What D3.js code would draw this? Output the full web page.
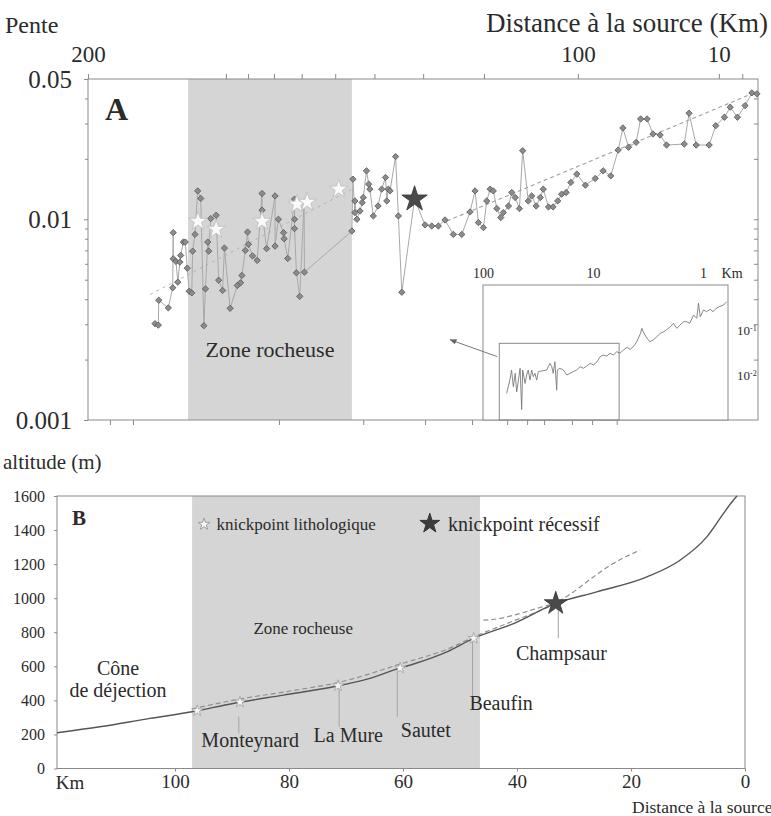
<!DOCTYPE html>
<html><head><meta charset="utf-8">
<script src="https://cdn.jsdelivr.net/npm/d3@7"></script>
<style>
body{margin:0;background:#fff}
svg{display:block}
svg text{font-family:"Liberation Serif","Tinos","Times New Roman",serif}
</style></head><body>
<script>
// ===== Panel A : pente vs distance (log-log) =====
const slopeDist = [598,583,581,540,522,520,520,509,502,494,491,481,474,467,460,451,448,440,431,421,411,406,399,396,390,374,367,356,351,336,318,310,307,299,294,292,283,273,263,263,254,238,238,232,223,222,216,205,205,205,202,197,190.5,190,132,131,129,129,127,124,122,121,118,116,115,112,108,105,102,101,99.8,98.5,94.4,92.4,90.0,81.6,75.3,71.5,68.0,64.6,60.6,56.8,53.3,51.3,50.0,48.1,46.9,45.7,44.6,43.4,42.1,41.3,39.7,38.7,37.7,36.5,35.6,34.1,33.2,32.1,31.1,30.4,29.2,28.2,27.2,26.4,25.5,24.6,23.5,22.0,20.4,19.2,18.1,17.1,16.5,15.8,14.9,14.4,13.7,13.1,12.4,11.8,10.3,9.93,9.40,8.51,8.09,7.57,7.24,6.85,6.46,6.13,5.90];
const slopeVal = [.00302,.00297,.00395,.00362,.00456,.00858,.00636,.00617,.00486,.00612,.00661,.0077,.0077,.00571,.00438,.0043,.00694,.00841,.01385,.0127,.00295,.0045,.0077,.00694,.01008,.01047,.00497,.00442,.00719,.0036,.00468,.00483,.00525,.007,.00864,.0075,.00657,.00624,.01344,.0111,.00714,.01308,.00735,.01,.00858,.008,.00638,.0126,.01,.00899,.00541,.00413,.01216,.00545,.00874,.01585,.0108,.01234,.01,.011,.01212,.01284,.01744,.01496,.01413,.01039,.01165,.01413,.01616,.01234,.01413,.01385,.02054,.01039,.00433,.0126,.00938,.00926,.00926,.00992,.00841,.00841,.01088,.01385,.00963,.00909,.01234,.01413,.01385,.01131,.0102,.0108,.01165,.0136,.01284,.01131,.02196,.01234,.01308,.01165,.01284,.01413,.01152,.01152,.01234,.01334,.0136,.01526,.01679,.01479,.01597,.01744,.01646,.02213,.02851,.02284,.02418,.03162,.03162,.02661,.0263,.02344,.02371,.03377,.02344,.02344,.02927,.03225,.03618,.03225,.03685,.04266,.04217];
const lithoStarDist = [430,374,263,201,186,146];
const lithoStarVal  = [.00977,.00891,.00977,.01189,.01216,.01413];
const recessStarDist = [81.6];
const recessStarVal  = [.0126];
const trendLowDist = [621,132],  trendLowVal = [.00422,.0141];
const trendHighDist = [63.7,6.13], trendHighVal = [.0098,.0422];
const zoneA = [464,132];
const yTickValsA = [0.001,0.01,0.05];
const yTickLabelsA = ["0.001","0.01","0.05"];
const yMinorA = [.002,.003,.004,.005,.006,.007,.008,.009,.02,.03,.04];
const topTickVals = [1000,347,293,240,194,150,111,76.4,47.9,23.3,7.9,6.6];
const topTickLabels = ["200","","","","","","","","","100","10",""];
const bottomTickVals = [845,708,231,121,75.3,52.5,40.1,34.4,30.2,24.4,20.9,17.3];
// inset (full profile)
const insetDist = [61,57,55,53,51,49.4,46,44.5,43.6,41.5,40.1,38.8,37.4,36.1,34.9,33.7,32.5,31.4,26.4,24.6,23.7,23,22.2,21.4,21.1,20,18.6,17.3,16.2,15.1,14.1,13.1,12.2,11.4,10.6,9.9,9.2,8.6,8.1,7.5,7.0,6.5,6.1,5.7,5.3,4.9,4.6,4.3,4.0,3.7,3.6,3.5,3.3,3.05,2.84,2.63,2.44,2.27,2.12,1.98,1.86,1.73,1.62,1.5,1.41,1.32,1.22,1.14,1.10,1.06,0.99,0.93,0.86,0.81,0.76,0.71,0.65,0.61];
const insetSlope = [.0039,.0077,.0129,.0055,.0109,.0042,.0141,.0017,.0129,.0065,.01,.0129,.0077,.0129,.0092,.0109,.0077,.0119,.0129,.0182,.0153,.0109,.0197,.0046,.0129,.0141,.0129,.01,.0109,.0119,.0129,.0153,.0141,.0158,.0182,.0167,.0197,.0255,.0278,.0264,.0303,.0278,.033,.0303,.0359,.0412,.0372,.0426,.0549,.0845,.109,.0917,.071,.0549,.0599,.071,.0845,.0917,.104,.118,.141,.109,.129,.153,.153,.141,.215,.182,.392,.197,.278,.255,.288,.255,.303,.33,.359,.426];
const insetXTicks = [100,10,1];
const insetYTicks = [0.1,0.01];
const insetZoomDist = [71.1,5.79], insetZoomSlope = [0.0506,0.001];
const arrowDist = [43.3,62.1], arrowVal = [.00207,.00251];

// ===== Panel B : altitude vs distance =====
const profileKm  = [120.7,113.2,104.4,97.0,89.8,81.0,72.2,66,61,58,52.3,47.7,40.6,33.2,26.0,17.2,11.4,6.7,3.8,2.05,1.4];
const profileAlt = [210,245,294,333,382,431,480,528,585,615,685,763,851,969,1037,1125,1223,1360,1497,1575,1600];
const dash1Km  = [97.0,88.6,79.8,71.1,60.5,51.8,47.7,41.2,33.2,30.1,26.6,23.1,18.4];
const dash1Alt = [350,408,455,507,613,707,771,859,971,1037,1125,1204,1282];
const dash2Km  = [45.9,43.0,39.5,36.5,33.2];
const dash2Alt = [871,881,910,940,971];
const lithoKmB  = [96.1,88.6,71.4,60.5,47.6];
const lithoAltB = [339,390,486,590,764];
const recessKmB = [33.2], recessAltB = [969];
const zoneB = [97,46.5];
const yTicksB = [0,200,400,600,800,1000,1200,1400,1600];
const xTicksB = [100,80,60,40,20,0];
const leaderKm = [88.8,71.2,61.0,47.8,32.75];
const leaderTop = [304,470,560,764,969];
const leaderBot = [206,245,304,421,765];
const siteLabels = ["Monteynard","La Mure","Sautet","Beaufin","Champsaur"];
const siteKm  = [86.8,69.6,56.0,42.8,32.2];
const siteAlt = [167,196,226,382,676];

// ===== drawing =====
const W=771,H=816, TXT="#2b2b2b", LN="#8a8a8a", SHADE="#d5d5d5";
const FF='"Liberation Serif","Tinos","Times New Roman",serif';
const svg=d3.select("body").append("svg").attr("width",W).attr("height",H).attr("font-family",FF);
const defs=svg.append("defs");
defs.append("marker").attr("id","arr").attr("viewBox","0 0 10 10").attr("refX",9).attr("refY",5)
  .attr("markerWidth",7).attr("markerHeight",7).attr("orient","auto")
  .append("path").attr("d","M0,1L10,5L0,9Z").attr("fill","#666");

function styleAxis(g,fs){
  g.attr("font-family",FF);
  g.select(".domain").remove();
  g.selectAll(".tick line").attr("stroke",LN);
  g.selectAll(".tick text").attr("fill",TXT).attr("font-size",fs);
}

// ---- Panel A
const xA=d3.scaleLog().domain([1000,5.85]).range([88,758]);
const yA=d3.scaleLog().domain([0.001,0.05]).range([420,79]);
const A=svg.append("g");
A.append("rect").attr("x",xA(zoneA[0])).attr("y",yA(0.05)).attr("width",xA(zoneA[1])-xA(zoneA[0]))
  .attr("height",yA(0.001)-yA(0.05)).attr("fill",SHADE);
A.append("rect").attr("x",xA.range()[0]).attr("y",yA.range()[1]).attr("width",xA.range()[1]-xA.range()[0])
  .attr("height",yA.range()[0]-yA.range()[1]).attr("fill","none").attr("stroke",LN);

A.append("g").attr("transform",`translate(0,${yA.range()[1]})`)
  .call(d3.axisTop(xA).tickValues(topTickVals).tickFormat((d,i)=>topTickLabels[i]).tickSize(5).tickPadding(12))
  .call(g=>styleAxis(g,"23px"));
A.append("g").attr("transform",`translate(0,${yA.range()[0]})`)
  .call(d3.axisBottom(xA).tickValues(bottomTickVals).tickFormat("").tickSize(5))
  .call(g=>styleAxis(g,"10px"));
A.append("g").attr("transform",`translate(${xA.range()[0]},0)`)
  .call(d3.axisLeft(yA).tickValues(yTickValsA).tickFormat((d,i)=>yTickLabelsA[i]).tickSize(4).tickPadding(12))
  .call(g=>styleAxis(g,"25px"));
A.append("g").attr("transform",`translate(${xA.range()[0]},0)`)
  .call(d3.axisLeft(yA).tickValues(yMinorA).tickFormat("").tickSize(3))
  .call(g=>styleAxis(g,"10px"));
A.append("g").attr("transform",`translate(${xA.range()[1]},0)`)
  .call(d3.axisRight(yA).tickValues(yMinorA.concat([0.01])).tickFormat("").tickSize(-4))
  .call(g=>styleAxis(g,"10px"));

// inset
const xI=d3.scaleLog().domain([100,0.593]).range([483,728]);
const yI=d3.scaleLog().domain([0.001,1]).range([420,285]);
A.append("rect").attr("x",xI.range()[0]).attr("y",yI.range()[1]).attr("width",xI.range()[1]-xI.range()[0])
  .attr("height",yI.range()[0]-yI.range()[1]).attr("fill","#fff").attr("stroke",LN);
A.append("rect").attr("x",xI(insetZoomDist[0])).attr("y",yI(insetZoomSlope[0]))
  .attr("width",xI(insetZoomDist[1])-xI(insetZoomDist[0])).attr("height",yI(insetZoomSlope[1])-yI(insetZoomSlope[0]))
  .attr("fill","none").attr("stroke",LN);
A.append("path").datum(d3.range(insetDist.length))
  .attr("d",d3.line().x(i=>xI(insetDist[i])).y(i=>yI(insetSlope[i])))
  .attr("fill","none").attr("stroke","#7a7a7a").attr("stroke-width",0.9);
A.append("g").attr("transform",`translate(0,${yI.range()[1]})`)
  .call(d3.axisTop(xI).tickValues(insetXTicks).tickFormat(d3.format("d")).tickSize(0).tickPadding(7))
  .call(g=>styleAxis(g,"14px"));
A.append("text").attr("x",xI(1)+29).attr("y",yI.range()[1]-7).attr("text-anchor","middle")
  .attr("font-size","14px").attr("fill",TXT).text("Km");
A.append("g").attr("transform",`translate(${xI.range()[1]},0)`)
  .call(d3.axisRight(yI).tickValues(insetYTicks).tickFormat("").tickSize(0).tickPadding(9))
  .call(g=>styleAxis(g,"13px"))
  .call(g=>g.selectAll(".tick text").each(function(d){
     const t=d3.select(this); t.text("10");
     t.append("tspan").attr("dy","-0.5em").attr("font-size","8px").attr("fill",TXT).text("-"+Math.round(-Math.log10(d)));
  }));
A.append("line").attr("x1",xA(arrowDist[0])).attr("y1",yA(arrowVal[0])).attr("x2",xA(arrowDist[1])).attr("y2",yA(arrowVal[1]))
  .attr("stroke","#777").attr("stroke-width",1).attr("marker-end","url(#arr)");

// trend lines
A.append("line").attr("x1",xA(trendLowDist[0])).attr("y1",yA(trendLowVal[0])).attr("x2",xA(trendLowDist[1])).attr("y2",yA(trendLowVal[1]))
  .attr("stroke","#b4b4b4").attr("stroke-width",1).attr("stroke-dasharray","3,4");
A.append("line").attr("x1",xA(trendHighDist[0])).attr("y1",yA(trendHighVal[0])).attr("x2",xA(trendHighDist[1])).attr("y2",yA(trendHighVal[1]))
  .attr("stroke","#a0a0a0").attr("stroke-width",1.1).attr("stroke-dasharray","4,3");
// slope series
const idx=d3.range(slopeDist.length);
A.append("path").datum(idx).attr("d",d3.line().x(i=>xA(slopeDist[i])).y(i=>yA(slopeVal[i])))
  .attr("fill","none").attr("stroke","#a8a8a8").attr("stroke-width",1);
A.append("g").selectAll("path").data(idx).join("path")
  .attr("d",d3.symbol(d3.symbolSquare,20))
  .attr("transform",i=>`translate(${xA(slopeDist[i])},${yA(slopeVal[i])}) rotate(45)`)
  .attr("fill","#8c8c8c").attr("stroke","#5a5a5a").attr("stroke-width",0.8);
A.append("g").selectAll("path").data(lithoStarDist).join("path")
  .attr("d",d3.symbol(d3.symbolStar,110))
  .attr("transform",(d,i)=>`translate(${xA(d)},${yA(lithoStarVal[i])})`)
  .attr("fill","#fafafa").attr("stroke","#c4c4c4").attr("stroke-width",1);
A.append("g").selectAll("path").data(recessStarDist).join("path")
  .attr("d",d3.symbol(d3.symbolStar,200))
  .attr("transform",(d,i)=>`translate(${xA(d)},${yA(recessStarVal[i])})`)
  .attr("fill","#4a4a4a").attr("stroke","#333").attr("stroke-width",0.8);

A.append("text").attr("x",105).attr("y",120).attr("font-size","32px").attr("font-weight","bold").attr("fill",TXT).text("A");
A.append("text").attr("x",(xA(zoneA[0])+xA(zoneA[1]))/2).attr("y",357).attr("text-anchor","middle")
  .attr("font-size","22px").attr("fill",TXT).text("Zone rocheuse");
svg.append("text").attr("x",5).attr("y",33).attr("font-size","24px").attr("fill",TXT).text("Pente");
svg.append("text").attr("x",768).attr("y",32).attr("text-anchor","end").attr("font-size","27px").attr("fill",TXT).text("Distance à la source (Km)");

// ---- Panel B
const xB=d3.scaleLinear().domain([120.7,0]).range([57,745]);
const yB=d3.scaleLinear().domain([0,1600]).range([768.5,496]);
const B=svg.append("g");
B.append("rect").attr("x",xB(zoneB[0])).attr("y",yB(1600)).attr("width",xB(zoneB[1])-xB(zoneB[0]))
  .attr("height",yB(0)-yB(1600)).attr("fill",SHADE);
B.append("rect").attr("x",xB.range()[0]).attr("y",yB.range()[1]).attr("width",xB.range()[1]-xB.range()[0])
  .attr("height",yB.range()[0]-yB.range()[1]).attr("fill","none").attr("stroke",LN);
B.append("g").attr("transform",`translate(${xB.range()[0]},0)`)
  .call(d3.axisLeft(yB).tickValues(yTicksB).tickFormat(d3.format("d")).tickSize(3).tickPadding(9))
  .call(g=>styleAxis(g,"16px"));
B.append("g").attr("transform",`translate(0,${yB.range()[0]})`)
  .call(d3.axisBottom(xB).tickValues(xTicksB).tickFormat(d3.format("d")).tickSize(3).tickPadding(3))
  .call(g=>styleAxis(g,"19px"));
B.append("text").attr("x",70).attr("y",789).attr("text-anchor","middle").attr("font-size","19px").attr("fill",TXT).text("Km");
svg.append("text").attr("x",3).attr("y",469).attr("font-size","21px").attr("fill",TXT).text("altitude (m)");
svg.append("text").attr("x",632).attr("y",813).attr("font-size","17.5px").attr("fill",TXT).text("Distance à la source");

// leaders
B.append("g").selectAll("line").data(leaderKm).join("line")
  .attr("x1",d=>xB(d)).attr("x2",d=>xB(d)).attr("y1",(d,i)=>yB(leaderTop[i])).attr("y2",(d,i)=>yB(leaderBot[i]))
  .attr("stroke","#a5a5a5").attr("stroke-width",1);
// dashed projections
[[dash1Km,dash1Alt],[dash2Km,dash2Alt]].forEach(([kk,aa])=>{
  B.append("path").datum(d3.range(kk.length))
   .attr("d",d3.line().x(i=>xB(kk[i])).y(i=>yB(aa[i])).curve(d3.curveMonotoneX))
   .attr("fill","none").attr("stroke","#8f8f8f").attr("stroke-width",1.2).attr("stroke-dasharray","5,3");
});
// profile
B.append("path").datum(d3.range(profileKm.length))
  .attr("d",d3.line().x(i=>xB(profileKm[i])).y(i=>yB(profileAlt[i])).curve(d3.curveMonotoneX))
  .attr("fill","none").attr("stroke","#555").attr("stroke-width",1.4);
B.append("g").selectAll("path").data(lithoKmB).join("path")
  .attr("d",d3.symbol(d3.symbolStar,40))
  .attr("transform",(d,i)=>`translate(${xB(d)},${yB(lithoAltB[i])})`)
  .attr("fill","#f5f5f5").attr("stroke","#a0a0a0").attr("stroke-width",0.8);
B.append("g").selectAll("path").data(recessKmB).join("path")
  .attr("d",d3.symbol(d3.symbolStar,165))
  .attr("transform",(d,i)=>`translate(${xB(d)},${yB(recessAltB[i])})`)
  .attr("fill","#4a4a4a").attr("stroke","#333").attr("stroke-width",0.8);

// legend in B
B.append("path").attr("d",d3.symbol(d3.symbolStar,45)).attr("transform",`translate(${xB(94.9)},${yB(1434)})`)
  .attr("fill","#f5f5f5").attr("stroke","#a0a0a0");
B.append("text").attr("x",xB(92.7)).attr("y",yB(1434)).attr("dy","0.35em").attr("font-size","17px").attr("fill",TXT).text("knickpoint lithologique");
B.append("path").attr("d",d3.symbol(d3.symbolStar,120)).attr("transform",`translate(${xB(55.3)},${yB(1438)})`)
  .attr("fill","#3c3c3c").attr("stroke","#333");
B.append("text").attr("x",xB(52.1)).attr("y",yB(1438)).attr("dy","0.35em").attr("font-size","20px").attr("fill",TXT).text("knickpoint récessif");

B.append("text").attr("x",72).attr("y",525).attr("font-size","21px").attr("font-weight","bold").attr("fill",TXT).text("B");
B.append("text").attr("x",xB(110)).attr("y",yB(589)).attr("dy","0.35em").attr("text-anchor","middle").attr("font-size","20px").attr("fill",TXT).text("Cône");
B.append("text").attr("x",xB(110)).attr("y",yB(460)).attr("dy","0.35em").attr("text-anchor","middle").attr("font-size","20px").attr("fill",TXT).text("de déjection");
B.append("text").attr("x",xB(77.5)).attr("y",yB(822)).attr("dy","0.35em").attr("text-anchor","middle").attr("font-size","17px").attr("fill",TXT).text("Zone rocheuse");
B.append("g").selectAll("text").data(siteLabels).join("text")
  .attr("x",(d,i)=>xB(siteKm[i])).attr("y",(d,i)=>yB(siteAlt[i])).attr("dy","0.35em")
  .attr("text-anchor","middle").attr("font-size","20px").attr("fill",TXT).text(d=>d);
</script>
</body></html>
